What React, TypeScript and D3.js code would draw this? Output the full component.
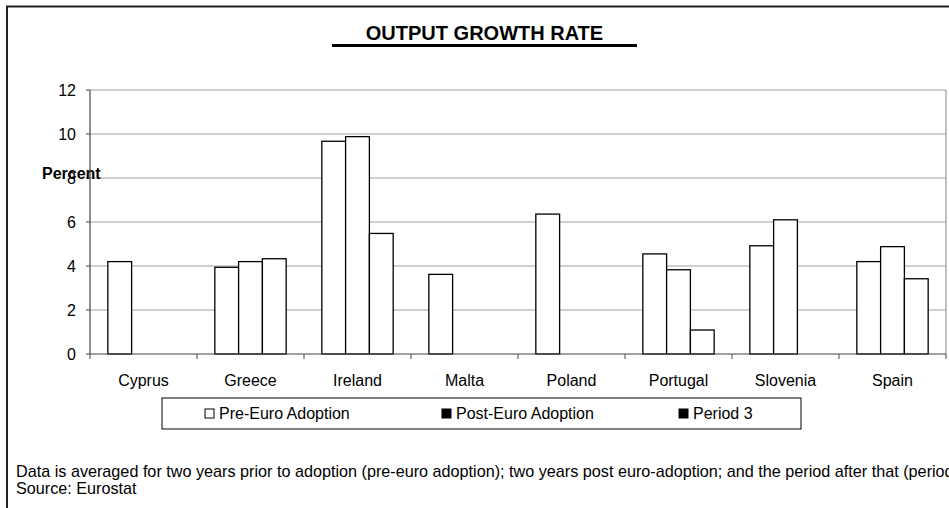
import React from "react";
import * as d3 from "d3";

const countries = ["Cyprus", "Greece", "Ireland", "Malta", "Poland", "Portugal", "Slovenia", "Spain"];
const seriesNames = ["Pre-Euro Adoption", "Post-Euro Adoption", "Period 3"];
const preEuro: (number | null)[] = [4.2, 3.94, 9.67, 3.62, 6.36, 4.55, 4.92, 4.2];
const postEuro: (number | null)[] = [null, 4.2, 9.88, null, null, 3.83, 6.1, 4.88];
const period3: (number | null)[] = [null, 4.33, 5.48, null, null, 1.09, null, 3.42];
const yTicks = [0, 2, 4, 6, 8, 10, 12];
const titleText = "OUTPUT GROWTH RATE";
const axisLabel = "Percent";
const footnotes = [
  "Data is averaged for two years prior to adoption (pre-euro adoption); two years post euro-adoption; and the period after that (period 3).",
  "Source: Eurostat",
];

const W = 949;
const H = 508;
const plot = { left: 90, right: 946, top: 90, bottom: 354 };
const FONT = "'Liberation Sans', Arial, Helvetica, sans-serif";

export default function App() {
  const series = [preEuro, postEuro, period3];

  const x = d3.scaleBand<string>().domain(countries).range([plot.left, plot.right]).padding(0);
  const y = d3.scaleLinear().domain([0, 12]).range([plot.bottom, plot.top]);

  // Excel-style clustered bars: 3 bars per group with a 150% gap width
  const barW = x.bandwidth() / (seriesNames.length + 1.5);
  const inner = d3
    .scaleBand<number>()
    .domain(d3.range(seriesNames.length))
    .range([barW * 0.75, barW * 0.75 + barW * seriesNames.length])
    .padding(0);

  const legendItemX = [205, 442, 679];

  return (
    <svg width={W} height={H} style={{ position: "absolute", left: 0, top: 0 }} fontFamily={FONT}>
      <rect x={0} y={0} width={W} height={H} fill="#fff" />
      {/* outer chart frame */}
      <rect x={7} y={6.5} width={W + 20} height={H + 20} fill="none" stroke="#222" strokeWidth={2} />

      {/* title */}
      <text x={484.5} y={40} textAnchor="middle" fontSize={20} fontWeight="bold">
        {titleText}
      </text>
      <line x1={332} x2={637} y1={45.5} y2={45.5} stroke="#000" strokeWidth={3} />

      {/* gridlines */}
      {yTicks
        .filter((t) => t > 0)
        .map((t) => (
          <line key={t} x1={plot.left} x2={plot.right} y1={y(t)} y2={y(t)} stroke="#a0a0a0" strokeWidth={1} />
        ))}
      <line x1={plot.right} x2={plot.right} y1={plot.top} y2={plot.bottom} stroke="#888" strokeWidth={1} />

      {/* bars */}
      {countries.map((c, i) => (
        <g key={c} transform={`translate(${x(c)},0)`}>
          {series.map((s, k) =>
            s[i] == null ? null : (
              <rect
                key={k}
                x={inner(k)}
                y={y(s[i] as number)}
                width={inner.bandwidth()}
                height={y(0) - y(s[i] as number)}
                fill="#fff"
                stroke="#000"
                strokeWidth={1.3}
              />
            )
          )}
        </g>
      ))}

      {/* y axis */}
      <line x1={plot.left} x2={plot.left} y1={plot.top} y2={plot.bottom} stroke="#444" strokeWidth={1.2} />
      {yTicks.map((t) => (
        <g key={t}>
          <line x1={plot.left - 4} x2={plot.left} y1={y(t)} y2={y(t)} stroke="#444" />
          <text x={76} y={y(t)} dy="0.35em" textAnchor="end" fontSize={16}>
            {t}
          </text>
        </g>
      ))}
      <text x={42} y={179} fontSize={16} fontWeight="bold">
        {axisLabel}
      </text>

      {/* x axis */}
      <line x1={plot.left} x2={plot.right} y1={plot.bottom} y2={plot.bottom} stroke="#444" strokeWidth={1.2} />
      {[...countries.map((c) => x(c) as number), plot.right].map((px, i) => (
        <line key={i} x1={px} x2={px} y1={plot.bottom} y2={plot.bottom + 5} stroke="#444" />
      ))}
      {countries.map((c) => (
        <text key={c} x={(x(c) as number) + x.bandwidth() / 2} y={386} textAnchor="middle" fontSize={16}>
          {c}
        </text>
      ))}

      {/* legend */}
      <rect x={162} y={398} width={639} height={31} fill="#fff" stroke="#000" strokeWidth={1} />
      {seriesNames.map((name, k) => (
        <g key={name}>
          <rect
            x={legendItemX[k]}
            y={409}
            width={9}
            height={9}
            fill={k === 0 ? "#fff" : "#000"}
            stroke="#000"
            strokeWidth={1}
          />
          <text x={legendItemX[k] + 14} y={418.5} fontSize={16}>
            {name}
          </text>
        </g>
      ))}

      {/* footnotes */}
      {footnotes.map((t, i) => (
        <text key={i} x={16} y={477 + i * 17} fontSize={16.2}>
          {t}
        </text>
      ))}
    </svg>
  );
}
